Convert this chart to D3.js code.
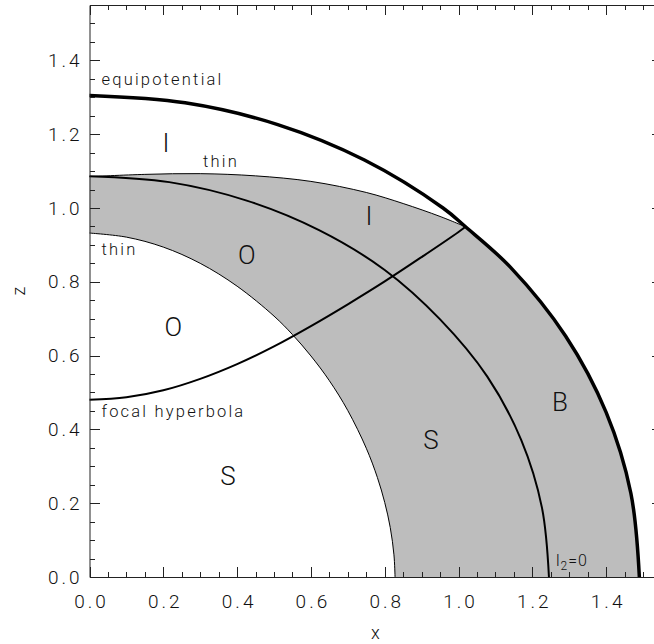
<!DOCTYPE html>
<html>
<head>
<meta charset="utf-8">
<script src="https://cdn.jsdelivr.net/npm/d3@7"></script>
<style>
  body { margin: 0; background: #fff; }
  text { font-family: 'Roboto', 'DejaVu Sans', sans-serif; font-weight: 300; fill: #111; }
</style>
</head>
<body>
<div id="chart"></div>
<script>
// curves, (x, z) pairs
const equipX = [0, 0.259, 0.510, 0.745, 0.958, 1.019, 1.141, 1.290, 1.400, 1.467, 1.490]
const equipZ = [1.305, 1.285, 1.226, 1.130, 1.000, 0.949, 0.839, 0.653, 0.446, 0.227, 0]

const l2X = [0, 0.216, 0.426, 0.622, 0.800, 0.950, 1.078, 1.170, 1.226, 1.245]
const l2Z = [1.086, 1.070, 1.020, 0.940, 0.832, 0.698, 0.543, 0.371, 0.188, 0]

const hypX = [0, 0.1, 0.2, 0.3, 0.4, 0.5, 0.6, 0.7, 0.8, 0.9, 1.0, 1.019]
const hypZ = [0.480, 0.487, 0.506, 0.537, 0.577, 0.625, 0.680, 0.739, 0.801, 0.867, 0.935, 0.949]

// thin boundaries of the grey band
const upperX = [0, 0.15, 0.30, 0.45, 0.60, 0.75, 0.85, 0.95, 1.019]
const upperZ = [1.085, 1.091, 1.093, 1.087, 1.072, 1.042, 1.012, 0.977, 0.949]

const innerX = [0, 0.1, 0.2, 0.3, 0.4, 0.5, 0.55, 0.6, 0.65, 0.7, 0.75, 0.78, 0.8, 0.815, 0.825, 0.828]
const innerZ = [0.932, 0.921, 0.894, 0.850, 0.788, 0.707, 0.657, 0.599, 0.532, 0.451, 0.349, 0.270, 0.202, 0.134, 0.060, 0]

const majorTicks = [0, 0.2, 0.4, 0.6, 0.8, 1.0, 1.2, 1.4]
const minorTicks = d3.range(0, 1.551, 0.05)

const regionLabels = ['I', 'I', 'O', 'O', 'S', 'S', 'B']
const regionLabelX = [0.207, 0.757, 0.426, 0.227, 0.375, 0.925, 1.275]
const regionLabelZ = [1.176, 0.978, 0.874, 0.679, 0.274, 0.372, 0.474]

const width = 654
const height = 644
const padding = { left: 89.5, top: 5, right: -7.5, bottom: 67 }

const xScale = d3.scaleLinear()
    .domain([0, 1.55])
    .range([padding.left, width - padding.right])

const yScale = d3.scaleLinear()
    .domain([0, 1.55])
    .range([height - padding.bottom, padding.top])

const zip = (xs, zs) => xs.map((x, i) => [x, zs[i]])

const line = d3.line()
    .x(d => xScale(d[0]))
    .y(d => yScale(d[1]))
    .curve(d3.curveCatmullRom)

const svg = d3.select('#chart').append('svg')
    .attr('width', width)
    .attr('height', height)

const plot = svg.append('g')

// grey band: upper thin edge, equipotential down to z=0, back up the inner thin edge
const upper = zip(upperX, upperZ)
const equipPart = zip(equipX, equipZ).filter(d => d[0] >= 1.019)
const inner = zip(innerX, innerZ).reverse()
const bandPath = line(upper) + line(equipPart).replace(/^M/, 'L') + line(inner).replace(/^M/, 'L') + 'Z'

plot.append('path')
    .attr('d', bandPath)
    .attr('fill', '#bdbdbd')
    .attr('stroke', 'none')

plot.append('path')
    .attr('d', line(upper))
    .attr('fill', 'none')
    .attr('stroke', '#000')
    .attr('stroke-width', 1)

plot.append('path')
    .attr('d', line(zip(innerX, innerZ)))
    .attr('fill', 'none')
    .attr('stroke', '#000')
    .attr('stroke-width', 1)

plot.append('path')
    .attr('d', line(zip(hypX, hypZ)))
    .attr('fill', 'none')
    .attr('stroke', '#000')
    .attr('stroke-width', 2)

plot.append('path')
    .attr('d', line(zip(l2X, l2Z)))
    .attr('fill', 'none')
    .attr('stroke', '#000')
    .attr('stroke-width', 2)

plot.append('path')
    .attr('d', line(zip(equipX, equipZ)))
    .attr('fill', 'none')
    .attr('stroke', '#000')
    .attr('stroke-width', 3.5)

// axes: d3 axis for the frame and labels
function addAxis(axis, transform) {
  axis.tickValues(majorTicks)
      .tickSize(0)
      .tickFormat(d3.format('.1f'))
  const g = svg.append('g')
      .attr('transform', transform)
      .call(axis)
  g.select('.domain').attr('stroke', '#222')
  g.selectAll('text')
      .attr('font-size', 19)
      .attr('letter-spacing', 3)
      .attr('font-family', "'Roboto', 'DejaVu Sans', sans-serif")
      .attr('font-weight', 300)
      .attr('fill', '#111')
  return g
}

const bottomY = yScale(0)
const topY = yScale(1.55)
const leftX = xScale(0)
const rightX = xScale(1.55)

const gb = addAxis(d3.axisBottom(xScale).tickPadding(18), `translate(0, ${bottomY})`)
gb.selectAll('text').attr('dx', 1.5)
addAxis(d3.axisLeft(yScale).tickPadding(7), `translate(${leftX}, 0)`)
addAxis(d3.axisTop(xScale), `translate(0, ${topY})`).selectAll('text').remove()
addAxis(d3.axisRight(yScale), `translate(${rightX}, 0)`).selectAll('text').remove()

// tick marks, all pointing inward
const isMajor = v => majorTicks.some(m => Math.abs(m - v) < 1e-6)
const tickLen = v => isMajor(v) ? 10 : 5
const marks = svg.append('g')
    .attr('fill', 'none')
    .attr('stroke', '#222')
    .attr('stroke-width', 1)
    .attr('shape-rendering', 'crispEdges')

marks.selectAll('path.xb').data(minorTicks).enter().append('path')
    .attr('d', d => `M${Math.round(xScale(d)) + 0.5},${bottomY}V${bottomY - tickLen(d)}`)
marks.selectAll('path.xt').data(minorTicks).enter().append('path')
    .attr('d', d => `M${Math.round(xScale(d)) + 0.5},${topY}V${topY + tickLen(d)}`)
marks.selectAll('path.yl').data(minorTicks).enter().append('path')
    .attr('d', d => `M${leftX},${Math.round(yScale(d)) + 0.5}H${leftX + tickLen(d)}`)
marks.selectAll('path.yr').data(minorTicks).enter().append('path')
    .attr('d', d => `M${rightX},${Math.round(yScale(d)) + 0.5}H${rightX - tickLen(d)}`)

svg.append('text')
    .attr('x', (xScale(0) + xScale(1.55)) / 2)
    .attr('y', 639)
    .attr('text-anchor', 'middle')
    .attr('font-size', 18)
    .text('x')

svg.append('text')
    .attr('transform', `translate(25, ${(yScale(0) + yScale(1.55)) / 2}) rotate(-90)`)
    .attr('text-anchor', 'middle')
    .attr('font-size', 18)
    .text('z')

// region letters
svg.append('g').selectAll('text')
    .data(regionLabels).enter()
  .append('text')
    .attr('x', (d, i) => xScale(regionLabelX[i]))
    .attr('y', (d, i) => yScale(regionLabelZ[i]))
    .attr('dy', '0.36em')
    .attr('text-anchor', 'middle')
    .attr('font-size', 26)
    .text(d => d)

// curve annotations
const notes = [
  { t: 'equipotential', x: 101.5, y: 85 },
  { t: 'thin', x: 203, y: 167 },
  { t: 'thin', x: 101.5, y: 255 },
  { t: 'focal hyperbola', x: 101.5, y: 417 }
]
svg.append('g').selectAll('text')
    .data(notes).enter()
  .append('text')
    .attr('x', d => d.x)
    .attr('y', d => d.y)
    .attr('font-size', 16.5)
    .attr('letter-spacing', 2.2)
    .text(d => d.t)

const l2 = svg.append('text')
    .attr('x', 556)
    .attr('y', 566)
    .attr('font-size', 16)
    .attr('letter-spacing', 1)
l2.append('tspan').text('l')
l2.append('tspan').attr('font-size', 12).attr('dy', 4).text('2')
l2.append('tspan').attr('dy', -4).text('=0')
</script>
</body>
</html>
